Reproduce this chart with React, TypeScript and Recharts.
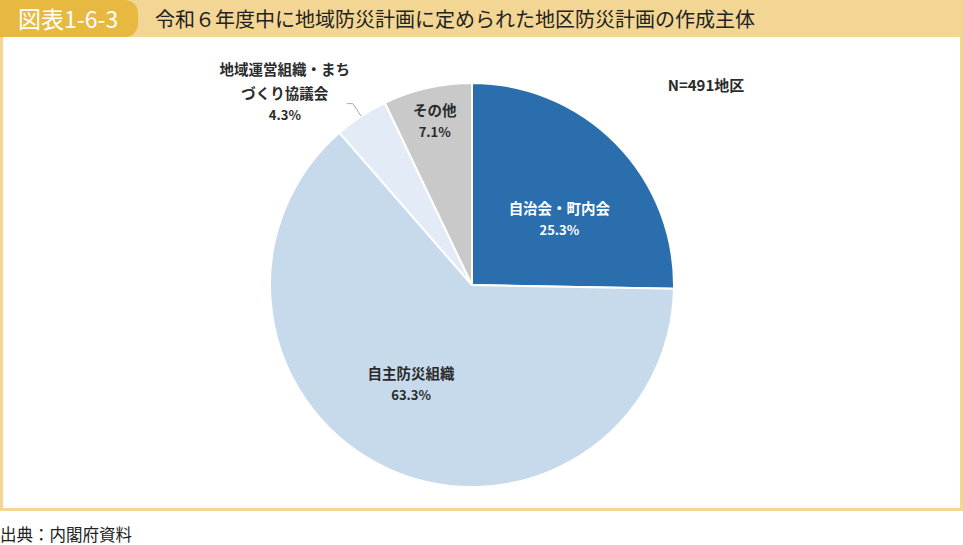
import { PieChart, Pie, Cell } from 'recharts'

const categories = ['自治会・町内会', '自主防災組織', '地域運営組織・まちづくり協議会', 'その他']
const shares = [25.3, 63.3, 4.3, 7.1]
const sliceColors = ['#2b6ead', '#c6daec', '#e3ecf6', '#c9c9c9']
const sampleNote = 'N=491地区'

const data = categories.map((name, i) => ({ name, value: shares[i] }))

const FONT = "'Noto Sans CJK JP', 'Noto Sans', sans-serif"
const RAD = Math.PI / 180

// label placement tweaks per slice (radius fraction, angle shift in degrees)
const labelTweak = [
  { r: 0.545, shift: -7 },
  { r: 0.575, shift: -6.6 },
  { r: 0, shift: 0 },
  { r: 0.835, shift: 0 },
]

const renderLabel = (props: any) => {
  const { cx, cy, midAngle, outerRadius, index } = props
  const pct = `${shares[index].toFixed(1)}%`
  const textColor = index === 0 ? '#ffffff' : '#2b2b2b'
  if (index === 2) {
    // outside label with leader line
    const a = -midAngle * RAD
    const sx = cx + outerRadius * Math.cos(a)
    const sy = cy + outerRadius * Math.sin(a)
    const ex = cx + (outerRadius + 15) * Math.cos(a)
    const ey = cy + (outerRadius + 15) * Math.sin(a)
    const hx = ex - 6
    const tx = hx - 62
    return (
      <g>
        <polyline points={`${sx},${sy} ${ex},${ey} ${hx},${ey}`} fill="none" stroke="#a6a6a6" strokeWidth={1} />
        <text x={tx} y={ey - 35} textAnchor="middle" dominantBaseline="central" fontFamily={FONT} fontSize={14.5} fontWeight={600} fill={textColor}>
          地域運営組織・まち
        </text>
        <text x={tx} y={ey - 11} textAnchor="middle" dominantBaseline="central" fontFamily={FONT} fontSize={14.5} fontWeight={600} fill={textColor}>
          づくり協議会
        </text>
        <text x={tx} y={ey + 11} textAnchor="middle" dominantBaseline="central" fontFamily={FONT} fontSize={13} fontWeight={600} fill={textColor}>
          {pct}
        </text>
      </g>
    )
  }
  const t = labelTweak[index]
  const a = -(midAngle + t.shift) * RAD
  const x = cx + outerRadius * t.r * Math.cos(a)
  const y = cy + outerRadius * t.r * Math.sin(a)
  return (
    <g>
      <text x={x} y={y - 11} textAnchor="middle" dominantBaseline="central" fontFamily={FONT} fontSize={14.5} fontWeight={600} fill={textColor}>
        {categories[index]}
      </text>
      <text x={x} y={y + 11} textAnchor="middle" dominantBaseline="central" fontFamily={FONT} fontSize={13} fontWeight={600} fill={textColor}>
        {pct}
      </text>
    </g>
  )
}

export default function App() {
  return (
    <div style={{ position: 'absolute', left: 0, top: 0, width: 963, height: 545, background: '#fff', fontFamily: FONT, overflow: 'hidden' }}>
      {/* header band */}
      <div style={{ position: 'absolute', left: 0, top: 0, width: 963, height: 37, background: '#f3d693' }} />
      <div
        style={{
          position: 'absolute', left: 0, top: 0, width: 138, height: 37, background: '#e8b941',
          borderRadius: '0 13px 13px 0', color: '#fff', fontSize: 23, lineHeight: '37px', paddingLeft: 18, boxSizing: 'border-box', whiteSpace: 'nowrap',
        }}
      >
        図表1-6-3
      </div>
      <div style={{ position: 'absolute', left: 155, top: 0, height: 37, lineHeight: '37px', fontSize: 20, color: '#222', whiteSpace: 'nowrap' }}>
        令和６年度中に地域防災計画に定められた地区防災計画の作成主体
      </div>
      {/* frame */}
      <div style={{ position: 'absolute', left: 0, top: 37, width: 963, height: 474, border: '3px solid #f3d693', borderTop: 'none', boxSizing: 'border-box' }} />
      <div style={{ position: 'absolute', left: 0, top: 37 }}>
        <PieChart width={963} height={470} margin={{ top: 0, right: 0, bottom: 0, left: 0 }}>
          <Pie
            data={data}
            dataKey="value"
            nameKey="name"
            cx={472}
            cy={248}
            outerRadius={202}
            startAngle={90}
            endAngle={-270}
            stroke="#ffffff"
            strokeWidth={2}
            label={renderLabel}
            labelLine={false}
            isAnimationActive={false}
          >
            {data.map((d, i) => (
              <Cell key={d.name} fill={sliceColors[i]} />
            ))}
          </Pie>
          <text x={706} y={47} textAnchor="middle" dominantBaseline="central" fontFamily={FONT} fontSize={15} fontWeight={600} fill="#2b2b2b">
            {sampleNote}
          </text>
        </PieChart>
      </div>
      <div style={{ position: 'absolute', left: 0, top: 525, fontSize: 16.5, lineHeight: '18px', color: '#222', whiteSpace: 'nowrap' }}>
        出典：内閣府資料
      </div>
    </div>
  )
}
